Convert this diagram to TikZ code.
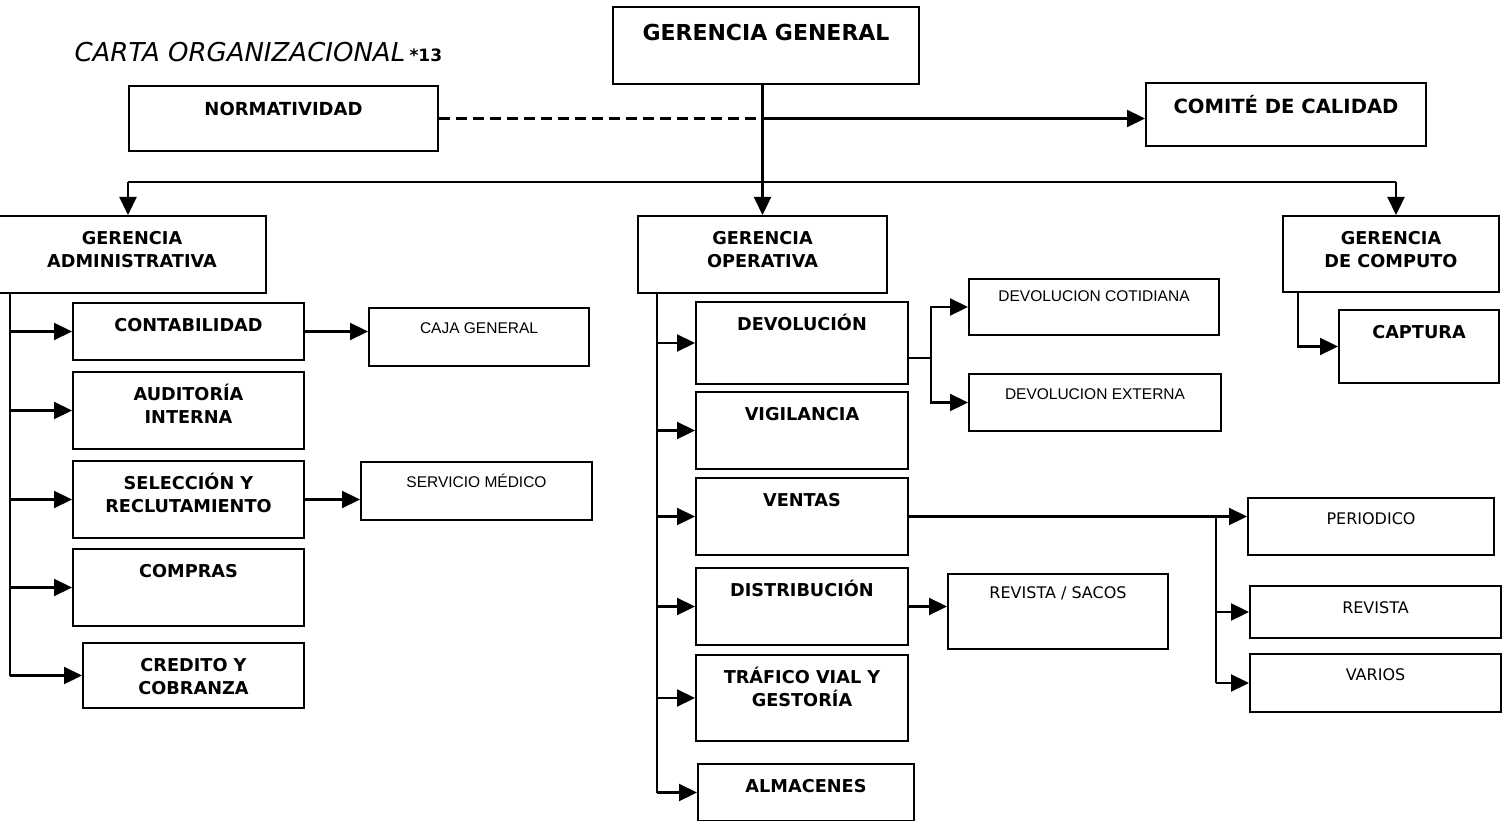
\documentclass[tikz,border=0pt]{standalone}
\usepackage{fontspec}
\setmainfont{DejaVu Sans}
\newfontfamily\smallfont{Liberation Sans}
\usetikzlibrary{arrows.meta}

\begin{document}
\begin{tikzpicture}[x=1pt, y=-1pt]
        % Define styles
        \tikzstyle{unit} = [draw=black, line width=2pt, anchor=north west, inner sep=0pt, align=center, text height=28.5pt, font=\fontsize{17.7}{22.5}\selectfont\bfseries]
        \tikzstyle{twounit} = [unit, text height=51pt]
        \tikzstyle{subunit} = [unit, text height=25.5pt, font=\smallfont\fontsize{15.5}{18}\selectfont]
        \tikzstyle{plainunit} = [unit, font=\fontsize{16}{19}\selectfont]
        \tikzstyle{wire} = [line width=2.2pt]
        \tikzstyle{link} = [wire, -{Triangle[length=18pt, width=17pt]}]

        \path [fill=white, use as bounding box] (0,0) rectangle (1507,821);

        % Nodes
        \node (title) [anchor=base west, font=\fontsize{26}{30}\selectfont\itshape] at (71,62) {CARTA ORGANIZACIONAL\,{\fontsize{17}{20}\selectfont\bfseries\upshape *13}};
        \node (gg) [unit, minimum width=306pt, text height=34pt, text depth=43pt, font=\fontsize{22}{26}\selectfont\bfseries] at (612,6) {GERENCIA GENERAL};
        \node (norma) [unit, minimum width=309pt, text height=29.5pt, text depth=35.5pt, font=\fontsize{18}{22}\selectfont\bfseries] at (128,85) {NORMATIVIDAD};
        \node (comite) [unit, minimum width=280pt, text height=31pt, text depth=32pt, font=\fontsize{19.6}{23}\selectfont\bfseries] at (1145,82) {COMITÉ DE CALIDAD};

        \node (gadmin) [twounit, minimum width=268pt, text depth=26pt] at (-3,215) {GERENCIA\\ADMINISTRATIVA};
        \node (gop) [twounit, minimum width=249pt, text depth=26pt] at (637,215) {GERENCIA\\OPERATIVA};
        \node (gcomp) [twounit, minimum width=216pt, text depth=25pt] at (1282,215) {GERENCIA\\DE COMPUTO};
        \node (captura) [unit, minimum width=160pt, text depth=44.5pt] at (1338,309) {CAPTURA};

        \node (contab) [unit, minimum width=231pt, text depth=28.5pt] at (72,302) {CONTABILIDAD};
        \node (audit) [twounit, minimum width=231pt, text depth=26pt] at (72,371) {AUDITORÍA\\INTERNA};
        \node (selec) [twounit, minimum width=231pt, text depth=26pt] at (72,460) {SELECCIÓN Y\\RECLUTAMIENTO};
        \node (compras) [unit, minimum width=231pt, text depth=48.5pt] at (72,548) {COMPRAS};
        \node (credito) [twounit, minimum width=221pt, text depth=14pt] at (82,642) {CREDITO Y\\COBRANZA};
        \node (caja) [subunit, minimum width=220pt, text depth=32.5pt] at (368,307) {CAJA GENERAL};
        \node (medico) [subunit, minimum width=231pt, text depth=32.5pt] at (360,461) {SERVICIO MÉDICO};

        \node (devol) [unit, minimum width=212pt, text depth=53.5pt] at (695,301) {DEVOLUCIÓN};
        \node (vigil) [unit, minimum width=212pt, text depth=48.5pt] at (695,391) {VIGILANCIA};
        \node (ventas) [unit, minimum width=212pt, text depth=48.5pt] at (695,477) {VENTAS};
        \node (distrib) [unit, minimum width=212pt, text depth=48.5pt] at (695,567) {DISTRIBUCIÓN};
        \node (trafico) [twounit, minimum width=212pt, text depth=35pt] at (695,654) {TRÁFICO VIAL Y\\GESTORÍA};
        \node (almac) [unit, minimum width=216pt, text depth=28.5pt] at (697,763) {ALMACENES};
        \node (cotid) [subunit, minimum width=250pt, text height=22.5pt, text depth=33.5pt] at (968,278) {DEVOLUCION COTIDIANA};
        \node (externa) [subunit, minimum width=252pt, text depth=31.5pt] at (968,373) {DEVOLUCION EXTERNA};
        \node (sacos) [plainunit, minimum width=220pt, text height=24.5pt, text depth=50.5pt] at (947,573) {REVISTA / SACOS};

        \node (period) [plainunit, minimum width=246pt, text height=26pt, text depth=31pt] at (1247,497) {PERIODICO};
        \node (revista) [plainunit, minimum width=251pt, text height=27pt, text depth=25pt] at (1249,585) {REVISTA};
        \node (varios) [plainunit, minimum width=251pt, text height=26pt, text depth=32pt] at (1249,653) {VARIOS};

        % Arrows from the top
        \coordinate (qj) at (gop.north |- norma.east);
        \draw [wire, dash pattern=on 11pt off 6pt] (norma.east) -- (qj);
        \draw [link] (qj) -- (qj -| comite.west);
        \draw [link] (gop.north |- gg.south) -- (gop.north);
        \coordinate (busL) at (128,182);
        \coordinate (busR) at (1396,182);
        \draw [wire] (busL) -- (busR);
        \draw [link] (busL) -- (busL |- gadmin.north);
        \draw [link] (busR) -- (busR |- gcomp.north);

        % Arrows administrativa
        \coordinate (adm) at ([xshift=13pt]gadmin.south west);
        \draw [wire] (adm) -- (adm |- credito.west);
        \foreach \b in {contab, audit, selec, compras, credito}
            \draw [link] (adm |- \b.west) -- (\b.west);
        \draw [link] (contab.east) -- (contab.east -| caja.west);
        \draw [link] (selec.east) -- (selec.east -| medico.west);

        % Arrows operativa
        \coordinate (opr) at ([xshift=20pt]gop.south west);
        \draw [wire] (opr) -- (opr |- almac.west);
        \foreach \b in {devol, vigil, ventas, distrib, trafico, almac}
            \draw [link] (opr |- \b.west) -- (\b.west);
        \coordinate (dj) at ([xshift=22pt, yshift=-15pt]devol.east);
        \draw [wire] ([yshift=-15pt]devol.east) -- (dj);
        \draw [link] (dj) |- (cotid.west);
        \draw [link] (dj) |- (externa.west);
        \draw [link] (distrib.east) -- (distrib.east -| sacos.west);
        \coordinate (vj) at ([xshift=307pt]ventas.east);
        \draw [link] (ventas.east) -- (ventas.east -| period.west);
        \draw [wire] (vj) -- (vj |- varios.west);
        \draw [link] (vj |- revista.west) -- (revista.west);
        \draw [link] (vj |- varios.west) -- (varios.west);

        % Arrows computo
        \coordinate (cj) at ([xshift=16pt]gcomp.south west);
        \draw [link] (cj) |- (captura.west);
\end{tikzpicture}
\end{document}
